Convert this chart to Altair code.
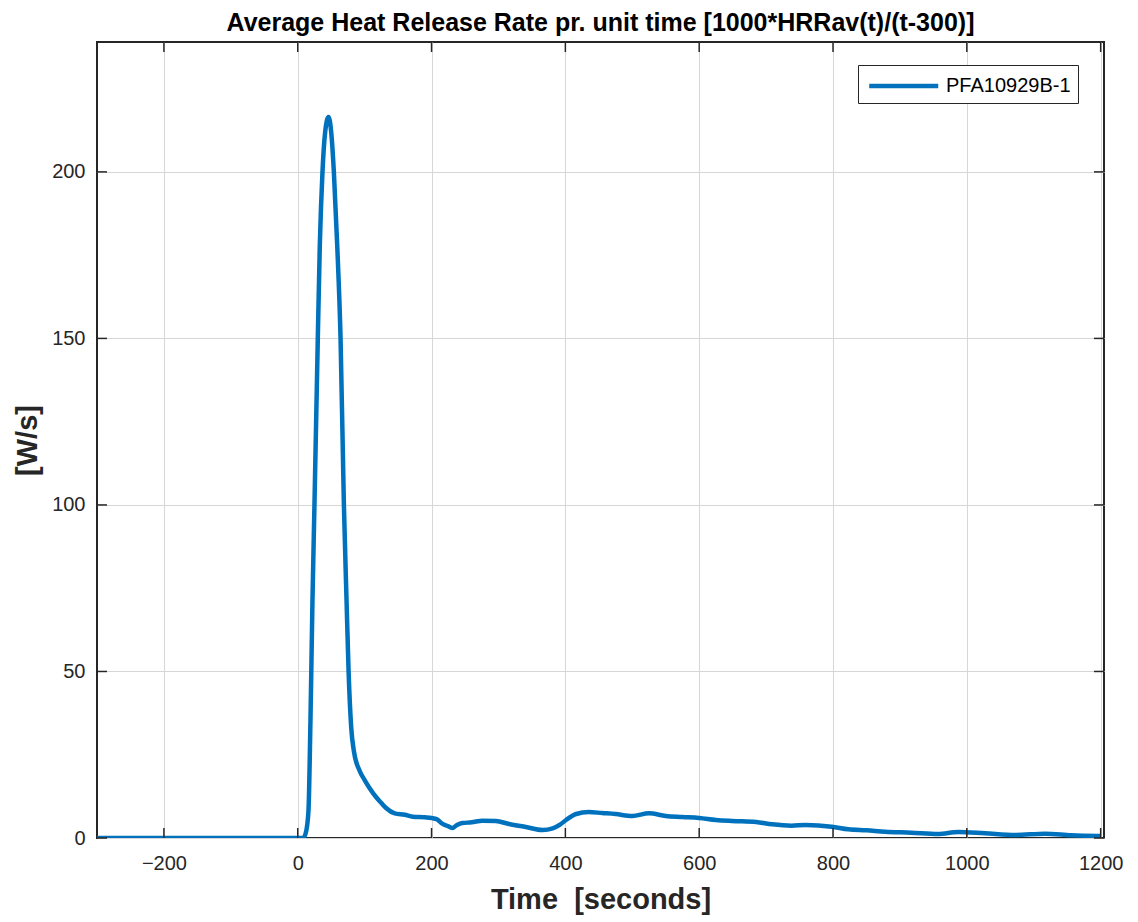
import altair as alt
import pandas as pd

SERIES = "PFA10929B-1"
TIME = [-300, 0, 8, 12, 16, 19, 22, 25, 30, 33, 37, 41, 46, 50, 54, 59, 64, 69, 73, 76, 80, 84,
        92, 100, 108, 117, 125, 132, 145, 160, 172, 190, 200, 208, 216, 224, 231, 238, 246, 260,
        276, 296, 316, 341, 366, 381, 392, 401, 416, 435, 455, 475, 500, 525, 550, 575, 600, 625,
        649, 685, 709, 738, 759, 798, 823, 850, 878, 917, 957, 987, 1027, 1072, 1117, 1156, 1199]
HRR = [0, 0, 0, 1.5, 8, 35, 71, 100, 150, 178, 200, 212, 216.5, 212, 200, 178, 150, 100, 71, 50,
       33, 26, 20.4, 17.4, 14.8, 12.3, 10.5, 9, 7.4, 7, 6.4, 6.2, 6, 5.6, 4.3, 3.6, 3.0, 3.9, 4.5, 4.7,
       5.2, 5.1, 4.2, 3.3, 2.4, 2.9, 4, 5.4, 7.2, 7.8, 7.5, 7.2, 6.6, 7.4, 6.6, 6.3, 6, 5.4,
       5.1, 4.8, 4.1, 3.7, 3.9, 3.4, 2.6, 2.3, 1.9, 1.6, 1.2, 1.8, 1.4, 0.9, 1.3, 0.8, 0.6]
X_TICKS = [-200, 0, 200, 400, 600, 800, 1000, 1200]
Y_TICKS = [0, 50, 100, 150, 200]
X_DOMAIN = [-300, 1205]
Y_DOMAIN = [0, 239]

W, H = 1007, 796
FONT = "Liberation Sans"
DARK = "#262626"
X_TITLE = "Time \u00a0[seconds]"
Y_TITLE = "[W/s]"

df = pd.DataFrame({"t": TIME, "v": HRR, "series": [SERIES] * len(TIME)})
xt = pd.DataFrame({"t": X_TICKS})
yt = pd.DataFrame({"v": Y_TICKS})

xscale = alt.Scale(domain=X_DOMAIN, nice=False, zero=False)
yscale = alt.Scale(domain=Y_DOMAIN, nice=False, zero=False)
xaxis = alt.Axis(values=X_TICKS, format="d", titleY=70, titleBaseline="alphabetic",
                 titleFontSize=29)
yaxis = alt.Axis(values=Y_TICKS, format="d", titleX=-70, titleBaseline="middle")


def X():
    return alt.X("t:Q", scale=xscale, title=X_TITLE, axis=xaxis)


def Y():
    return alt.Y("v:Q", scale=yscale, title=Y_TITLE, axis=yaxis)


line = alt.Chart(df).mark_line(strokeWidth=4.5, clip=True, interpolate="monotone").encode(
    x=X(),
    y=Y(),
    color=alt.Color("series:N", scale=alt.Scale(range=["#0072BD"]),
                    legend=alt.Legend(title=None, orient="none", legendX=761, legendY=23,
                                      symbolType="M-0.85,0H5.15", symbolSize=529,
                                      symbolStrokeWidth=4.5, labelFontSize=20,
                                      labelFont=FONT, labelColor="black", labelOffset=53,
                                      padding=7, strokeColor=DARK, fillColor="white",
                                      cornerRadius=0)),
)

tick_len = 10
xb = alt.Chart(xt).mark_rule(color=DARK, strokeWidth=1.5).encode(
    x=X(), y=alt.value(H), y2=alt.value(H - tick_len))
xtop = alt.Chart(xt).mark_rule(color=DARK, strokeWidth=1.5).encode(
    x=X(), y=alt.value(0), y2=alt.value(tick_len))
yl = alt.Chart(yt).mark_rule(color=DARK, strokeWidth=1.5).encode(
    y=Y(), x=alt.value(0), x2=alt.value(tick_len))
yr = alt.Chart(yt).mark_rule(color=DARK, strokeWidth=1.5).encode(
    y=Y(), x=alt.value(W), x2=alt.value(W - tick_len))

chart = alt.layer(line, xb, xtop, yl, yr).properties(
    width=W, height=H,
    title=alt.Title("Average Heat Release Rate pr. unit time [1000*HRRav(t)/(t-300)]",
                    fontSize=25, font=FONT, fontWeight="bold", color="black", offset=5.5),
    autosize=alt.AutoSizeParams(type="none"),
    padding={"left": 89, "top": 34, "right": 26, "bottom": 80},
).configure_view(
    stroke=DARK, strokeWidth=2
).configure_axis(
    domain=False, ticks=False, grid=True, gridColor="#d6d6d6", gridWidth=1,
    labelFont=FONT, labelFontSize=20, labelColor=DARK, labelPadding=12,
    titleFont=FONT, titleFontSize=29, titleFontWeight="bold", titleColor=DARK,
).configure_axisX(labelPadding=15)

chart.save("out.html", embed_options={"renderer": "svg", "actions": False})
